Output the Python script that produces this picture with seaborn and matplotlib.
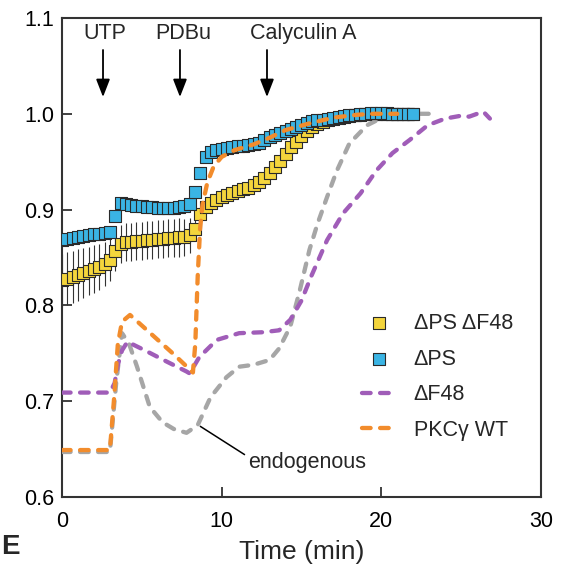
"""
PKC translocation time course (normalised fluorescence)
"""
import numpy as np
import pandas as pd
import matplotlib
matplotlib.use('Agg')
import matplotlib.pyplot as plt
import seaborn as sns

# ---- data ---------------------------------------------------------------
# square-marker series sampled every 20 s (1/3 min), 0 .. 22 min
sample_min = 1 / 3
dps_df48 = [0.826, 0.828, 0.830, 0.832, 0.834, 0.836, 0.838, 0.840, 0.843, 0.847,
            0.857, 0.864,
            0.866, 0.866, 0.867, 0.867, 0.868, 0.868, 0.869, 0.869, 0.870, 0.870, 0.871, 0.871,
            0.873, 0.880, 0.895, 0.903, 0.907, 0.910, 0.913,
            0.915, 0.917, 0.919, 0.921, 0.923, 0.926, 0.929, 0.933, 0.938, 0.944,
            0.951, 0.958, 0.965, 0.971, 0.977, 0.982, 0.986, 0.989, 0.991, 0.993,
            0.995, 0.996, 0.997, 0.998, 0.999, 0.999, 1.000, 1.000, 1.000, 1.000,
            1.000, 1.000, 1.000, 1.000, 1.000, 1.000]
dps_df48_err = [0.028, 0.028, 0.027, 0.027, 0.026, 0.025, 0.025, 0.024, 0.023, 0.022,
                0.021, 0.020,
                0.020, 0.020, 0.020, 0.020, 0.020, 0.020, 0.020, 0.020, 0.020, 0.020, 0.020, 0.019,
                0.018, 0.012, 0.008, 0.006, 0.005, 0.005, 0.004,
                0.004, 0.004, 0.004, 0.004, 0.004, 0.004, 0.004, 0.004, 0.004, 0.004,
                0.004, 0.004, 0.004, 0.004, 0.004, 0.003, 0.003, 0.003, 0.003, 0.003,
                0.003, 0.003, 0.003, 0.003, 0.003, 0.003, 0.003, 0.003, 0.003, 0.003,
                0.003, 0.003, 0.003, 0.003, 0.003, 0.003]
dps = [0.868, 0.869, 0.870, 0.871, 0.872, 0.873, 0.874, 0.875, 0.876, 0.877,
       0.893, 0.907,
       0.906, 0.905, 0.904, 0.904, 0.903, 0.903, 0.902, 0.902, 0.902, 0.902, 0.903, 0.904,
       0.906, 0.918, 0.938, 0.955, 0.960, 0.962, 0.963,
       0.964, 0.965, 0.966, 0.966, 0.967, 0.968, 0.970, 0.973, 0.976, 0.978,
       0.980, 0.982, 0.984, 0.986, 0.988, 0.990, 0.992, 0.993, 0.994, 0.995,
       0.996, 0.997, 0.998, 0.999, 0.999, 1.000, 1.000, 1.001, 1.001, 1.001,
       1.001, 1.000, 1.000, 1.000, 1.000, 1.000]
t_sq = np.arange(len(dps)) * sample_min

# dashed curves
t_df48 = [0, 3.0, 3.3, 3.5, 3.76, 4.1, 5.2, 6.6, 7.8, 8.0, 8.6, 9.7, 11.1, 12.6, 13.6,
          14.3, 15.0, 15.6, 16.6, 17.6, 18.7, 19.7, 20.7, 21.8, 22.9, 24.0, 25.0,
          25.5, 26.0, 26.4, 26.8]
y_df48 = [0.709, 0.709, 0.719, 0.738, 0.753, 0.762, 0.753, 0.741, 0.731, 0.729, 0.746,
          0.764, 0.771, 0.772, 0.774, 0.785, 0.805, 0.830, 0.868, 0.896, 0.917, 0.941,
          0.959, 0.973, 0.988, 0.995, 0.998, 0.997, 1.000, 1.002, 0.995]

t_wt = [0, 3.0, 3.25, 3.5, 3.76, 4.26, 5.0, 6.0, 7.0, 8.2, 8.35, 8.5, 8.65, 8.8, 9.1,
        9.5, 10.0, 10.8, 12.0, 13.0, 14.0, 15.5, 17.0, 18.5, 19.5, 21.0]
y_wt = [0.649, 0.649, 0.700, 0.760, 0.783, 0.790, 0.779, 0.764, 0.749, 0.730, 0.760,
        0.830, 0.880, 0.905, 0.928, 0.945, 0.955, 0.962, 0.968, 0.975, 0.983, 0.990,
        0.996, 0.999, 1.000, 1.000]

t_endo = [0, 3.0, 3.4, 3.76, 4.2, 4.7, 5.5, 6.3, 7.0, 7.8, 8.5, 9.3, 10.3, 11.1, 12.0,
          13.0, 13.6, 14.3, 14.9, 15.5, 16.0, 16.6, 17.2, 18.0, 19.1, 19.7, 20.5, 21.5,
          22.5, 23.5]
y_endo = [0.647, 0.647, 0.720, 0.771, 0.760, 0.736, 0.694, 0.678, 0.671, 0.667, 0.675,
          0.704, 0.725, 0.736, 0.738, 0.743, 0.755, 0.778, 0.816, 0.858, 0.885, 0.913,
          0.940, 0.969, 0.988, 0.993, 0.998, 1.000, 1.000, 1.000]

# drug additions (min)
drug_names = ['UTP', 'PDBu', 'Calyculin A']
drug_times = [2.57, 7.39, 12.84]
drug_label_x = [2.7, 7.6, 15.1]

# ---- style --------------------------------------------------------------
sns.set_theme(style='ticks')
plt.rcParams['font.family'] = ['Liberation Sans', 'DejaVu Sans']
plt.rcParams['axes.edgecolor'] = '#333333'
plt.rcParams['axes.linewidth'] = 1.5
plt.rcParams['lines.dash_capstyle'] = 'round'

c_yellow = '#F4D53C'
c_blue = '#3AB4E4'
c_purple = '#A05DB8'
c_orange = '#F28C2C'
c_gray = '#A6A6A6'
lw = 3.1
dash = (0, (2.0, 2.2))

fig = plt.figure(figsize=(5.66, 5.71), dpi=100)
ax = fig.add_axes([0.1095, 0.1296, 0.8463, 0.8389])

sq = pd.DataFrame({'t': t_sq, 'dps_df48': dps_df48, 'dps': dps})

# error bars behind the yellow squares
ax.errorbar(sq['t'], sq['dps_df48'], yerr=dps_df48_err, fmt='none',
            ecolor='#333333', elinewidth=0.8, capsize=0, zorder=2)

sns.scatterplot(data=sq, x='t', y='dps_df48', ax=ax, marker='s', s=76,
                color=c_yellow, edgecolor='#2a2a2a', linewidth=0.8,
                label='ΔPS ΔF48', zorder=3)
sns.scatterplot(data=sq, x='t', y='dps', ax=ax, marker='s', s=76,
                color=c_blue, edgecolor='#2a2a2a', linewidth=0.8,
                label='ΔPS', zorder=4)

sns.lineplot(x=t_endo, y=y_endo, ax=ax, color=c_gray, lw=lw, linestyle=dash,
             zorder=3)
sns.lineplot(x=t_df48, y=y_df48, ax=ax, color=c_purple, lw=lw, linestyle=dash,
             label='ΔF48', zorder=5)
sns.lineplot(x=t_wt, y=y_wt, ax=ax, color=c_orange, lw=lw, linestyle=dash,
             label='PKCγ WT', zorder=6)

# arrows + drug labels
for name, tx, lx in zip(drug_names, drug_times, drug_label_x):
    ax.annotate('', xy=(tx, 1.0175), xytext=(tx, 1.0666),
                arrowprops=dict(arrowstyle='-|>,head_length=0.9,head_width=0.35',
                                color='black', lw=1.3, shrinkA=0, shrinkB=0))
    ax.text(lx, 1.084, name, ha='center', va='center', fontsize=15.5)

# endogenous label
ax.plot([8.64, 11.46], [0.674, 0.644], color='black', lw=1.1, zorder=7,
        solid_capstyle='butt')
ax.text(11.65, 0.636, 'endogenous', ha='left', va='center', fontsize=15.5)

ax.set_xlim(0, 30)
ax.set_ylim(0.6, 1.1)
ax.set_xticks([0, 10, 20, 30])
ax.set_yticks([0.6, 0.7, 0.8, 0.9, 1.0, 1.1])
ax.set_yticklabels(['0.6', '0.7', '0.8', '0.9', '1.0', '1.1'])
ax.tick_params(axis='both', direction='in', length=7, width=1.3,
               labelsize=15.5, colors='#333333', labelcolor='black')
ax.tick_params(axis='x', pad=10)
ax.tick_params(axis='y', pad=5.5)
ax.set_xlabel('Time (min)', fontsize=19, labelpad=6)
ax.set_ylabel('')

handles, labels = ax.get_legend_handles_labels()
order = [labels.index(k) for k in ['ΔPS ΔF48', 'ΔPS', 'ΔF48', 'PKCγ WT']]
ax.legend([handles[i] for i in order], [labels[i] for i in order],
          loc='upper left', bbox_to_anchor=(0.626, 0.384), frameon=False,
          fontsize=15.5, handlelength=1.6, handletextpad=0.8,
          labelspacing=0.68, borderpad=0, borderaxespad=0)

fig.text(0.002, 0.03, 'E', fontsize=20, fontweight='bold', ha='left')

fig.savefig('out.png', dpi=100)
